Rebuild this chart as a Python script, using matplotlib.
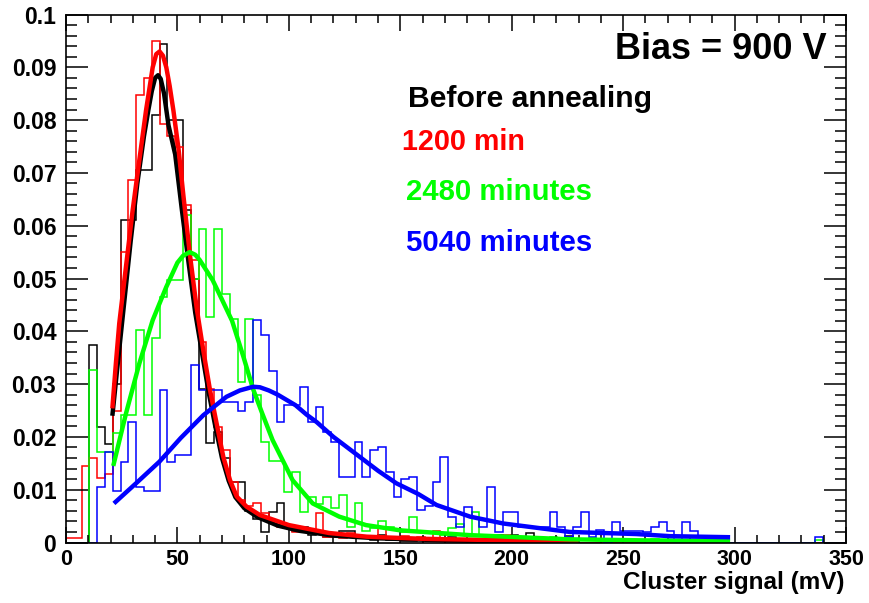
import numpy as np
import matplotlib
matplotlib.use("Agg")
import matplotlib.pyplot as plt
from matplotlib.ticker import MultipleLocator

# ---------------- data ----------------
bin_edges_range = (0, 350)
n_bins = 100

hist_before = [0, 0, 0, 0.0375, 0.0219, 0.0186, 0.030, 0.061, 0.061, 0.0706,
               0.0706, 0.081, 0.0945, 0.080, 0.080, 0.063, 0.050, 0.029, 0.0188, 0.021,
               0.016, 0.0115, 0.0115, 0.006, 0.0045, 0.002, 0.0058, 0.0074, 0.003, 0.0022,
               0.003, 0.0015, 0.002, 0.001, 0.0015, 0.0022, 0.0022, 0.0008, 0.0008, 0.0005,
               0.0015, 0.0005, 0.0008, 0.0002, 0.0002, 0.0008, 0.0005, 0.0008, 0.0005, 0.001,
               0.0003, 0.0005, 0.0003, 0.0003, 0.0002, 0.0015, 0.0003, 0.0015, 0.0005, 0.0018,
               0.0002, 0, 0, 0, 0.0012, 0, 0, 0, 0, 0,
               0, 0, 0, 0, 0, 0, 0, 0, 0, 0,
               0, 0, 0, 0, 0, 0, 0, 0, 0, 0,
               0, 0, 0, 0, 0, 0, 0, 0, 0, 0]

hist_1200 = [0.0008, 0.0008, 0.0145, 0.016, 0.0123, 0.0129, 0.025, 0.055, 0.0686, 0.0847,
             0.088, 0.095, 0.0793, 0.077, 0.075, 0.0639, 0.0535, 0.038, 0.029, 0.0219,
             0.0175, 0.0115, 0.008, 0.007, 0.0075, 0.0056, 0.004, 0.003, 0.003, 0.002,
             0.002, 0.002, 0.0056, 0.001, 0.001, 0.0009, 0.0018, 0.001, 0.0012, 0.0008,
             0.003, 0.001, 0.0008, 0.0013, 0.0005, 0.001, 0.0005, 0.0022, 0.0008, 0.0005,
             0.0005, 0.0005, 0.0003, 0.0005, 0.0003, 0.0008, 0.0014, 0.0003, 0.0003, 0.0003,
             0.0001, 0.0003, 0.0003, 0.0003, 0, 0, 0, 0, 0, 0,
             0, 0, 0, 0, 0, 0, 0, 0, 0, 0,
             0, 0, 0, 0, 0, 0, 0, 0, 0, 0,
             0, 0, 0, 0, 0, 0, 0, 0, 0, 0]

hist_2480 = [0, 0, 0, 0.0326, 0.0171, 0.0171, 0.0207, 0.0241, 0.0241, 0.0402,
             0.0241, 0.0388, 0.0465, 0.0497, 0.0497, 0.062, 0.050, 0.0594, 0.0427, 0.0594,
             0.047, 0.0424, 0.0304, 0.0424, 0.028, 0.019, 0.0155, 0.0155, 0.0095, 0.0134,
             0.0058, 0.0087, 0.0072, 0.0087, 0.0065, 0.009, 0.003, 0.0075, 0.0022, 0.0028,
             0.004, 0.003, 0.0025, 0.002, 0.0049, 0.0022, 0.0018, 0.002, 0.0015, 0.0028,
             0.0035, 0.0015, 0.0058, 0.0012, 0.0015, 0.0012, 0.001, 0.0012, 0.001, 0.0008,
             0.001, 0.0008, 0.001, 0.0006, 0.0008, 0.0005, 0.0006, 0.0008, 0.0004, 0.0005,
             0.0006, 0.0004, 0.0005, 0.0003, 0.0004, 0.0006, 0.0002, 0.0004, 0.0003, 0.0002,
             0.0004, 0.0002, 0.0003, 0.0002, 0.0001, 0, 0, 0, 0, 0,
             0, 0, 0, 0, 0, 0, 0.0005, 0, 0, 0]

hist_5040 = [0, 0, 0, 0, 0.0105, 0.0172, 0.0098, 0.0153, 0.0229, 0.0105,
             0.0098, 0.0098, 0.0289, 0.0153, 0.0166, 0.0166, 0.0336, 0.0289, 0.0289, 0.0289,
             0.0266, 0.0266, 0.025, 0.0266, 0.0421, 0.0393, 0.0325, 0.0229, 0.026, 0.026,
             0.0295, 0.0229, 0.0257, 0.021, 0.0191, 0.0125, 0.0125, 0.0191, 0.0125, 0.0175,
             0.0181, 0.0134, 0.0087, 0.012, 0.0124, 0.0062, 0.007, 0.0115, 0.0162, 0.0049,
             0.0029, 0.0068, 0.0046, 0.003, 0.0105, 0.002, 0.0057, 0.0057, 0.003, 0.003,
             0.003, 0.003, 0.0057, 0.0029, 0.001, 0.0029, 0.0057, 0.001, 0.0023, 0,
             0.0039, 0.0022, 0.0022, 0.0022, 0.002, 0.0029, 0.0039, 0.0022, 0, 0.0039,
             0.0022, 0.001, 0, 0.001, 0, 0, 0, 0, 0, 0,
             0, 0, 0, 0, 0, 0, 0.001, 0, 0, 0]

# fitted curves, points (x in mV, y)
fit_before_x = [20.8, 23, 26, 29, 32, 35, 37, 38.5, 40, 41.3, 42.5, 44, 46, 49, 52, 55,
                58, 61, 64, 67, 70, 73, 76, 80, 86, 95, 105, 120, 140, 170, 200, 230]
fit_before_y = [0.024, 0.033, 0.045, 0.057, 0.068, 0.077, 0.082, 0.0855, 0.088, 0.0885,
                0.0878, 0.085, 0.079, 0.0735, 0.063, 0.053, 0.0435, 0.036, 0.0285, 0.022,
                0.016, 0.0117, 0.0086, 0.0065, 0.0048, 0.0032, 0.0022, 0.0013, 0.0008,
                0.0004, 0.0002, 0.0001]

fit_1200_x = [20.8, 22.4, 23.9, 26.2, 29.9, 32.9, 35.9, 38.9, 40.5, 42, 43.5, 45, 46.5,
              48.2, 50.5, 52.6, 55.6, 58.6, 61.6, 64.6, 67.6, 70.6, 73.6, 76.6, 81, 87,
              100, 118, 135, 160, 200, 230]
fit_1200_y = [0.0254, 0.034, 0.0415, 0.0497, 0.0629, 0.0724, 0.0818, 0.090, 0.0925, 0.093,
              0.0922, 0.090, 0.0865, 0.0818, 0.0745, 0.066, 0.0545, 0.0445, 0.0364, 0.0289,
              0.0225, 0.0162, 0.0118, 0.0087, 0.0068, 0.0052, 0.0033, 0.0018, 0.0011,
              0.0007, 0.0004, 0.0002]

fit_2480_x = [21.2, 26.9, 32.9, 38.9, 45, 50, 52.5, 55.5, 58, 60, 65.8, 70, 74.5, 79.6,
              84, 88, 92.7, 101.7, 110.7, 122.6, 134.6, 150, 181, 226, 260, 298]
fit_2480_y = [0.0145, 0.0244, 0.0339, 0.0421, 0.0484, 0.053, 0.0543, 0.055, 0.0545, 0.0535,
              0.0497, 0.046, 0.042, 0.0352, 0.029, 0.0245, 0.0194, 0.0118, 0.0074, 0.0049,
              0.0033, 0.0023, 0.0014, 0.0006, 0.0004, 0.0003]

fit_5040_x = [21.5, 31.4, 41.9, 51.5, 61.6, 72, 78, 84, 87, 91, 95, 103, 108, 112.5, 120,
              130, 140, 148.3, 158, 166.3, 181.3, 196.2, 211, 226, 256, 271, 298]
fit_5040_y = [0.0074, 0.0112, 0.0153, 0.0198, 0.0241, 0.0276, 0.0288, 0.0295, 0.0294,
              0.0288, 0.028, 0.026, 0.0242, 0.0228, 0.020, 0.0168, 0.0136, 0.0112, 0.0092,
              0.0071, 0.0049, 0.0036, 0.0028, 0.002, 0.0016, 0.0012, 0.001]

x_ticks = [0, 50, 100, 150, 200, 250, 300, 350]
x_ticklabels = ["0", "50", "100", "150", "200", "250", "300", "350"]
y_ticks = [0, 0.01, 0.02, 0.03, 0.04, 0.05, 0.06, 0.07, 0.08, 0.09, 0.1]
y_ticklabels = ["0", "0.01", "0.02", "0.03", "0.04", "0.05", "0.06", "0.07", "0.08", "0.09", "0.1"]

x_label = "Cluster signal (mV)"
title_text = "Bias = 900 V"
labels = ["Before annealing", "1200 min", "2480 minutes", "5040 minutes"]
colors = ["#000000", "#ff0000", "#00ff00", "#0000ff"]

# ---------------- plot ----------------
W, H = 870, 603
fig = plt.figure(figsize=(W / 100, H / 100), dpi=100)
left, right, bottom, top = 66, 846, 542.5, 14.5
ax = fig.add_axes([left / W, 1 - bottom / H, (right - left) / W, (bottom - top) / H])

font = "Liberation Sans"
edges = np.linspace(bin_edges_range[0], bin_edges_range[1], n_bins + 1)

hists = [hist_before, hist_1200, hist_2480, hist_5040]
fits = [(fit_before_x, fit_before_y), (fit_1200_x, fit_1200_y),
        (fit_2480_x, fit_2480_y), (fit_5040_x, fit_5040_y)]

for h, c in zip(hists, colors):
    ax.stairs(h, edges, color=c, lw=1.1, baseline=0)
for (fx, fy), c in zip(fits, colors):
    ax.plot(fx, fy, color=c, lw=3.2, solid_joinstyle="round", solid_capstyle="butt")

ax.set_xlim(0, 350)
ax.set_ylim(0, 0.1)
ax.set_xticks(x_ticks)
ax.set_xticklabels(x_ticklabels)
ax.set_yticks(y_ticks)
ax.set_yticklabels(y_ticklabels)
ax.xaxis.set_minor_locator(MultipleLocator(10))
ax.yaxis.set_minor_locator(MultipleLocator(0.002))

ax.tick_params(axis="x", which="major", direction="in", length=11.5, width=1.1,
               top=True, bottom=True, pad=5)
ax.tick_params(axis="x", which="minor", direction="in", length=5.8, width=1.1,
               top=True, bottom=True)
ax.tick_params(axis="y", which="major", direction="in", length=16, width=1.1,
               left=True, right=True, pad=7)
ax.tick_params(axis="y", which="minor", direction="in", length=8, width=1.1,
               left=True, right=True)
for lab in ax.get_xticklabels():
    lab.set_fontfamily(font)
    lab.set_fontweight("bold")
    lab.set_fontsize(15.5)
for lab in ax.get_yticklabels():
    lab.set_fontfamily(font)
    lab.set_fontweight("bold")
    lab.set_fontsize(16.5)
for s in ax.spines.values():
    s.set_linewidth(1.2)

def ftext(px, py, s, **kw):
    fig.text(px / W, 1 - py / H, s, fontfamily=font, fontweight="bold", **kw)

ftext(845, 589, x_label, ha="right", va="baseline", fontsize=17.5)
ftext(827, 59, title_text, ha="right", va="baseline", fontsize=26)
ftext(408, 107, labels[0], ha="left", va="baseline", fontsize=21.7, color=colors[0])
ftext(402, 150, labels[1], ha="left", va="baseline", fontsize=20.7, color=colors[1])
ftext(406, 200, labels[2], ha="left", va="baseline", fontsize=21.2, color=colors[2])
ftext(406.5, 251.5, labels[3], ha="left", va="baseline", fontsize=21.2, color=colors[3])

fig.savefig("out.png", dpi=100)
